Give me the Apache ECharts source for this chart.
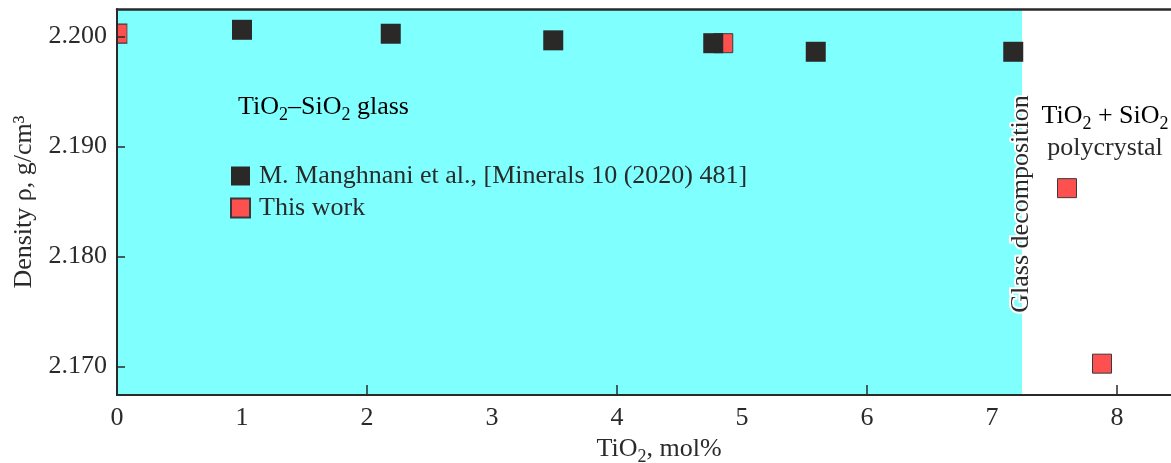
<!DOCTYPE html>
<html>
<head>
<meta charset="utf-8">
<title>Density of TiO2-SiO2 glass</title>
<script src="https://cdn.jsdelivr.net/npm/echarts@6/dist/echarts.min.js"></script>
<style>
  html, body { margin: 0; padding: 0; background: #fff; }
  #chart { width: 1171px; height: 463px; }
</style>
</head>
<body>
<div id="chart"></div>
<script>
// TiO2 content (mol%) and density (g/cm3)
const manghnaniX = [1.0, 2.19, 3.49, 4.77, 5.59, 7.17]
const manghnaniY = [2.20061, 2.20025, 2.19965, 2.19939, 2.19861, 2.19861]
const thisWorkX = [0.0, 4.85, 7.60, 7.88]
const thisWorkY = [2.20026, 2.19939, 2.18621, 2.17025]

const xLabels = [0, 1, 2, 3, 4, 5, 6, 7, 8]
const xTicks = [2, 4, 6, 8]
const yLabels = [2.170, 2.180, 2.190, 2.200]
const glassLimit = 7.24 // glass decomposition boundary, mol%

const seriesNames = ['M. Manghnani et al., [Minerals 10 (2020) 481]', 'This work']

const serif = 'Liberation Serif'
const ink = '#2a2a2a'
const fs = 26
const xMin = 0, xMax = 8.432
const yMin = 2.1674, yMax = 2.2025

// subscript styles for rich text
const rich = {
  n: { fontSize: fs, fontFamily: serif, color: ink, lineHeight: 34 },
  s: { fontSize: 18, fontFamily: serif, color: ink, lineHeight: 16, verticalAlign: 'bottom' }
}

const zip = (xs, ys) => xs.map((x, i) => [x, ys[i]])

// the point on the axis line is cut in half by the plot edge
const thisWorkData = zip(thisWorkX, thisWorkY).map(p => p[0] === xMin
  ? { value: p, symbolSize: [10, 19], symbolOffset: [5, 0] }
  : p)

const chart = echarts.init(document.getElementById('chart'))

const option = {
  animation: false,
  textStyle: { fontFamily: serif, color: ink },
  grid: { left: 117, right: 0, top: 9, bottom: 68, containLabel: false, outerBoundsMode: 'none' },
  legend: {
    data: [seriesNames[0], seriesNames[1]],
    orient: 'vertical',
    left: 225,
    top: 158,
    itemWidth: 19,
    itemHeight: 19,
    itemGap: 6,
    icon: 'rect',
    textStyle: { fontSize: fs, fontFamily: serif, color: ink, padding: [0, 0, 0, 4] }
  },
  xAxis: [{
    type: 'value',
    min: xMin,
    max: xMax,
    z: 5,
    splitLine: { show: false },
    axisLine: { lineStyle: { color: ink, width: 2 } },
    axisTick: { inside: true, length: 10, customValues: xTicks, lineStyle: { color: ink, width: 1.5 } },
    axisLabel: { customValues: xLabels, fontSize: fs, color: ink, margin: 10 },
    name: '{n|TiO}{s|2}{n|, mol%}',
    nameLocation: 'middle',
    nameGap: 36,
    nameTextStyle: { rich: rich, padding: [0, 0, 0, 30] }
  }, {
    type: 'value',
    position: 'top',
    min: xMin,
    max: xMax,
    z: 5,
    splitLine: { show: false },
    axisLine: { lineStyle: { color: ink, width: 2.5 } },
    axisTick: { show: false },
    axisLabel: { show: false }
  }],
  yAxis: {
    type: 'value',
    min: yMin,
    max: yMax,
    z: 5,
    splitLine: { show: false },
    axisLine: { show: true, lineStyle: { color: ink, width: 2 } },
    axisTick: { show: true, inside: true, length: 8, customValues: yLabels, lineStyle: { color: ink, width: 1.5 } },
    axisLabel: { customValues: yLabels, fontSize: fs, color: ink, margin: 10, formatter: v => v.toFixed(3) },
    name: 'Density ρ, g/cm³',
    nameLocation: 'middle',
    nameGap: 77,
    nameTextStyle: { fontSize: fs, color: ink }
  },
  series: [{
    name: seriesNames[1],
    type: 'scatter',
    symbol: 'rect',
    symbolSize: 19,
    itemStyle: { color: '#ff5050', borderColor: '#3a3a3a', borderWidth: 1, opacity: 1 },
    data: thisWorkData,
    markArea: {
      silent: true,
      itemStyle: { color: '#80ffff' },
      data: [[{ xAxis: xMin }, { xAxis: glassLimit }]]
    }
  }, {
    name: seriesNames[0],
    type: 'scatter',
    symbol: 'rect',
    symbolSize: 20,
    itemStyle: { color: '#2b2927', opacity: 1 },
    data: zip(manghnaniX, manghnaniY)
  }],
  graphic: [{
    type: 'text',
    x: 238, y: 90,
    z: 10,
    style: { text: '{n|TiO}{s|2}{n|–SiO}{s|2}{n| glass}', rich: rich }
  }, {
    type: 'text',
    x: 1105, y: 99,
    z: 10,
    style: { text: '{n|TiO}{s|2}{n| + SiO}{s|2}', rich: rich, align: 'center' }
  }, {
    type: 'text',
    x: 1105, y: 148,
    z: 10,
    style: { text: 'polycrystal', font: fs + 'px "Liberation Serif"', fill: ink, align: 'center', verticalAlign: 'middle' }
  }, {
    type: 'text',
    x: 1021, y: 204,
    rotation: Math.PI / 2,
    z: 10,
    style: {
      text: 'Glass decomposition', font: fs + 'px "Liberation Serif"', fill: ink,
      align: 'center', verticalAlign: 'middle', stroke: '#fff', lineWidth: 4
    }
  }]
}

chart.setOption(option)
</script>
</body>
</html>
